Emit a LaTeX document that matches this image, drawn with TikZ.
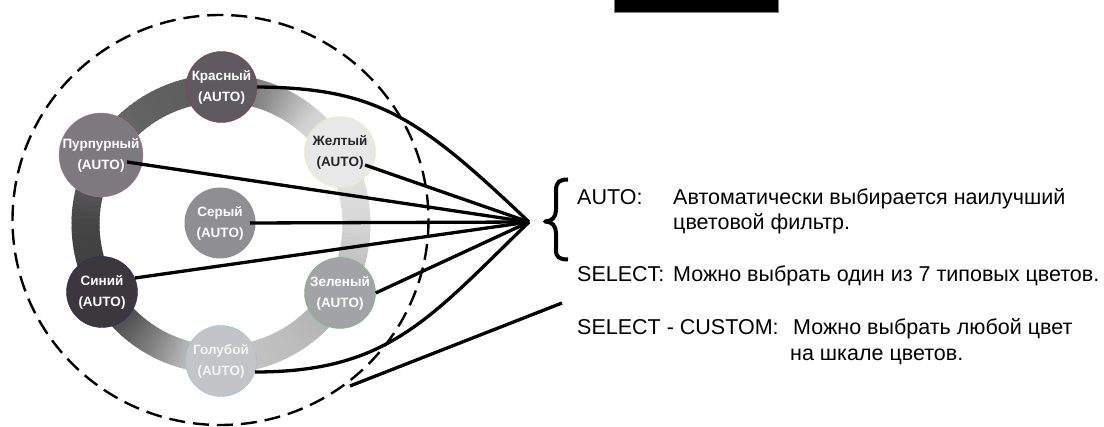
\documentclass[tikz,border=0pt]{standalone}
\usepackage{fontspec}
\setmainfont{Liberation Sans}
\usetikzlibrary{calc}
\definecolor{cKr}{HTML}{5E5A60}
\definecolor{cPu}{HTML}{7D797F}
\definecolor{cZh}{HTML}{E8E8E9}
\definecolor{cSe}{HTML}{8F8E92}
\definecolor{cSi}{HTML}{3B373D}
\definecolor{cZl}{HTML}{A2A3A6}
\definecolor{cGo}{HTML}{C3C4C7}
\begin{document}
\begin{tikzpicture}[x=1pt,y=-1pt,
  nd/.style={circle, minimum size=71pt, inner sep=0pt, align=center,
    font=\fontsize{13.5}{21}\selectfont\bfseries, text=white, line width=0.4pt},
  conn/.style={line width=3.3pt, line join=round},
  bracestyle/.style={line width=4pt, line join=round},
  txt/.style={anchor=base west, inner sep=0pt, font=\fontsize{21.5}{25}\selectfont}]
\useasboundingbox (0,0) rectangle (1104,427);
% dashed circle
\draw[dash pattern=on 16pt off 8pt, line width=2.4pt] (220.5,220) ellipse [x radius=208, y radius=205];
% ring
\def\cx{221}\def\cy{224}\def\ro{149.5}\def\ri{121.5}
\foreach \a/\b/\ga/\gb in {90/70/0.36/0.55, 70/50/0.55/0.82, 50/30/0.82/0.90, 30/0/0.90/0.84, 0/-30/0.84/0.68, -30/-60/0.68/0.74, -60/-90/0.74/0.78, -90/-105/0.78/0.72, -105/-120/0.72/0.50, -120/-135/0.50/0.32, -135/-150/0.32/0.24, -150/-180/0.24/0.27, -180/-210/0.27/0.42, -210/-240/0.42/0.38, -240/-270/0.38/0.36}{
  \foreach \i in {0,...,14}{
    \pgfmathsetmacro\s{(\a)+((\b)-(\a))*\i/15}
    \pgfmathsetmacro\e{(\a)+((\b)-(\a))*(\i+1.3)/15}
    \pgfmathsetmacro\m{(\s+\e)/2}
    \pgfmathsetmacro\g{(\ga)+((\gb)-(\ga))*(\i+0.5)/15}
    \definecolor{ringc}{gray}{\g}
    \fill[ringc] ({\cx+\ro*cos(\s)},{\cy-\ro*sin(\s)}) -- ({\cx+\ro*cos(\m)},{\cy-\ro*sin(\m)}) -- ({\cx+\ro*cos(\e)},{\cy-\ro*sin(\e)}) -- ({\cx+\ri*cos(\e)},{\cy-\ri*sin(\e)}) -- ({\cx+\ri*cos(\m)},{\cy-\ri*sin(\m)}) -- ({\cx+\ri*cos(\s)},{\cy-\ri*sin(\s)}) -- cycle;
  }
}
% nodes
\node[nd, fill=cKr, draw=red!40!cKr] (kr) at (221.5,87) {Красный\\(AUTO)};
\node[nd, fill=cPu, draw=magenta!40!cPu] (pu) at (101,155) {Пурпурный\\(AUTO)};
\node[nd, fill=cZh, draw=yellow!40!cZh, text=black!85] (zh) at (340,152) {Желтый\\(AUTO)};
\node[nd, fill=cSe] (se) at (220,223) {Серый\\(AUTO)};
\node[nd, fill=cSi, draw=blue!30!cSi] (si) at (102,292) {Синий\\(AUTO)};
\node[nd, fill=cZl, draw=green!35!cZl] (zl) at (340,293) {Зеленый\\(AUTO)};
\node[nd, fill=cGo, draw=cyan!35!cGo, text=white!96!black] (go) at (221,361) {Голубой\\(AUTO)};
% top bar
\node[fill=black, draw=gray, line width=0.5pt, minimum width=164pt, minimum height=14pt, inner sep=0pt, anchor=north west] (bar) at (614,-2.3) {};
% connectors
\coordinate (tip) at (529,222);
\draw[conn] (kr.east) .. controls (377,88) and (419,117.5) .. (tip);
\draw[conn] ($(zh.center)+(25,13)$) -- (tip);
\draw[conn] ($(pu.center)+(26,7)$) -- (tip);
\draw[conn] ($(se.center)+(30,0)$) -- (tip);
\draw[conn] ($(si.center)+(33,-14)$) -- (tip);
\draw[conn] (zl.east) -- (tip);
\draw[conn] ($(go.center)+(34,11)$) .. controls (388,372) and (429,319) .. (tip);
\coordinate (c1) at (350,386);
\coordinate (c2) at (562,303);
\draw[conn] (c1) -- (c2);
% brace
\draw[bracestyle] (568,179.5) .. controls (559,179.5) and (556,182) .. (556,191)
  -- (556,210) .. controls (556,217) and (552,221.5) .. (545,221.5)
  .. controls (552,221.5) and (556,226) .. (556,233)
  -- (556,250) .. controls (556,257) and (559,259.5) .. (568,259.5);
% texts
\node[txt] (t1) at (577,205) {AUTO:};
\node[txt] (t2) at (673,205) {Автоматически выбирается наилучший};
\node[txt] (t3) at (673,230) {цветовой фильтр.};
\node[txt] (t4) at (577,282) {SELECT:};
\node[txt] (t5) at (673,282) {Можно выбрать один из 7 типовых цветов.};
\node[txt] (t6) at (577,335) {SELECT - CUSTOM:};
\node[txt] (t7) at (793,335) {Можно выбрать любой цвет};
\node[txt] (t8) at (790,361) {на шкале цветов.};
\end{tikzpicture}
\end{document}
